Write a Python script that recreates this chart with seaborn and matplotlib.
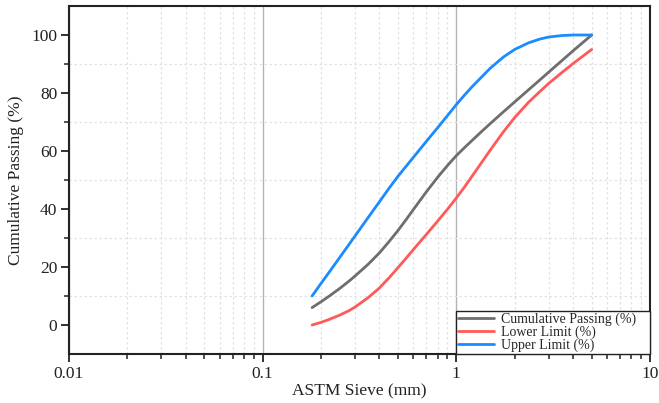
import numpy as np
import pandas as pd
import matplotlib
matplotlib.use("Agg")
import matplotlib.pyplot as plt
import matplotlib.ticker as mticker
import seaborn as sns

# ---- data ----
sieve_mm = [0.18, 0.2, 0.22, 0.25, 0.28, 0.3, 0.35, 0.4, 0.45, 0.5, 0.55, 0.6, 0.7, 0.8,
            0.9, 1.0, 1.1, 1.2, 1.35, 1.5, 1.75, 2.0, 2.36, 2.7, 3.0, 3.5, 4.0, 4.5, 5.0]
cumulative = [6, 8, 9.9, 12.6, 15.2, 16.9, 20.9, 24.8, 28.8, 32.6, 36.3, 39.8, 45.9, 50.9,
              55.0, 58.4, 61.1, 63.5, 66.7, 69.5, 73.5, 76.9, 81.1, 84.5, 87.2, 91.1, 94.5, 97.4, 100]
lower_limit = [0, 0.9, 1.9, 3.4, 5.0, 6.2, 9.4, 12.7, 16.3, 19.8, 23.0, 26.0, 31.2, 35.8,
               39.9, 43.8, 47.5, 51.1, 56.0, 60.4, 66.6, 71.5, 76.8, 80.5, 83.3, 87.0, 90.1, 92.7, 95.0]
upper_limit = [10, 14.3, 18.1, 23.3, 27.9, 30.7, 37.0, 42.4, 47.2, 51.3, 54.7, 57.8, 63.3, 68.0,
               72.2, 76.0, 79.2, 82.0, 85.5, 88.6, 92.4, 95.0, 97.3, 98.6, 99.3, 99.8, 100, 100, 100]

series_names = ["Cumulative Passing (%)", "Lower Limit (%)", "Upper Limit (%)"]
colors = ["#6e6e6e", "#ff5a5a", "#1a8cff"]
x_ticks = [0.01, 0.1, 1, 10]
x_tick_labels = ["0.01", "0.1", "1", "10"]
y_ticks = [0, 20, 40, 60, 80, 100]
y_minor = [10, 30, 50, 70, 90]

df = pd.DataFrame({
    "x": sieve_mm * 3,
    "y": cumulative + lower_limit + upper_limit,
    "series": [series_names[0]] * len(sieve_mm)
    + [series_names[1]] * len(sieve_mm)
    + [series_names[2]] * len(sieve_mm),
})

sns.set_style("ticks")
plt.rcParams["font.family"] = ["Liberation Serif", "DejaVu Serif"]

fig = plt.figure(figsize=(6.59, 4.03), dpi=100)
ax = fig.add_axes([0.1047, 0.1216, 0.8816, 0.8635])

ax.set_xscale("log")
ax.set_xlim(0.01, 10)
ax.set_ylim(-10, 110)

ax.xaxis.set_major_locator(mticker.FixedLocator(x_ticks))
ax.xaxis.set_major_formatter(mticker.FixedFormatter(x_tick_labels))
ax.xaxis.set_minor_locator(mticker.LogLocator(base=10, subs=np.arange(2, 10)))
ax.xaxis.set_minor_formatter(mticker.NullFormatter())
ax.yaxis.set_major_locator(mticker.FixedLocator(y_ticks))
ax.yaxis.set_minor_locator(mticker.FixedLocator(y_minor))

ax.grid(False)
ax.grid(True, which="major", axis="x", color="#b4b4b4", lw=1.0, ls="-")
ax.grid(True, which="minor", axis="x", color="#e2e2e2", lw=0.9, ls=(0, (2, 2)))
ax.grid(True, which="minor", axis="y", color="#e2e2e2", lw=0.9, ls=(0, (2, 2)))
ax.set_axisbelow(True)

sns.lineplot(data=df, x="x", y="y", hue="series", palette=colors,
             hue_order=series_names, lw=2.0, ax=ax, legend=True)

for s in ax.spines.values():
    s.set_visible(True)
    s.set_color("#222222")
    s.set_linewidth(1.5)

ax.tick_params(axis="both", which="major", direction="out", length=6, width=1.3,
               labelsize=12.5, colors="#222222", labelcolor="#222222", pad=2.5)
ax.tick_params(axis="both", which="minor", direction="out", length=3.5, width=1.1,
               colors="#222222")

ax.set_xlabel("ASTM Sieve (mm)", fontsize=12.5, color="#222222", labelpad=1)
ax.set_ylabel("Cumulative Passing (%)", fontsize=12.5, color="#222222", labelpad=5)

handles, labels = ax.get_legend_handles_labels()
leg = ax.legend(handles, labels, loc="lower left",
                bbox_to_anchor=(0.666, 0.0, 0.334, 0.12), mode="expand",
                borderaxespad=0, frameon=True, fancybox=False, fontsize=10,
                handlelength=2.6, labelspacing=-0.05, handletextpad=0.5,
                borderpad=0.15)
leg.get_frame().set_edgecolor("#222222")
leg.get_frame().set_linewidth(1.0)
leg.get_frame().set_alpha(1)

fig.savefig("out.png", dpi=100)
